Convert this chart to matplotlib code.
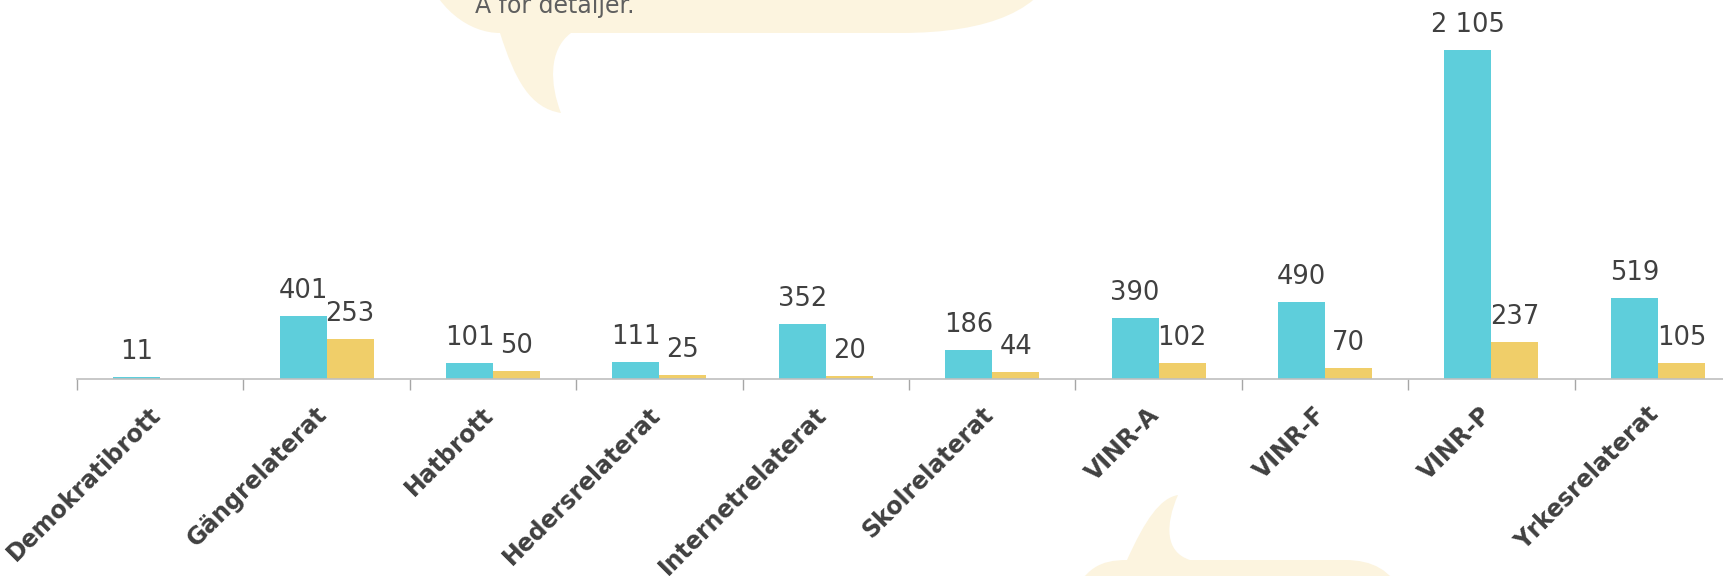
import numpy as np
import matplotlib
matplotlib.use("Agg")
import matplotlib.pyplot as plt
from matplotlib.path import Path
from matplotlib.patches import PathPatch
from matplotlib.transforms import ScaledTranslation

CATEGORIES = ["Demokratibrott", "Gängrelaterat", "Hatbrott", "Hedersrelaterat",
              "Internetrelaterat", "Skolrelaterat", "VINR-A", "VINR-F", "VINR-P",
              "Yrkesrelaterat"]
SERIES_A = [11, 401, 101, 111, 352, 186, 390, 490, 2105, 519]
SERIES_B = [np.nan, 253, 50, 25, 20, 44, 102, 70, 237, 105]
NOTE_TEXT = "A för detaljer."

TEAL = "#5ECEDB"
YELLOW = "#F0CE69"
TEXT = "#404040"
BUBBLE = "#FCF4DF"

W, H, DPI = 1723, 576, 100
BAR_W = 0.283


def fmt(v):
    return f"{int(v):,}".replace(",", " ")


def bubble_path(verts_codes):
    verts = [v for v, c in verts_codes]
    codes = [c for v, c in verts_codes]
    return Path(verts, codes)


fig = plt.figure(figsize=(W / DPI, H / DPI), dpi=DPI)

# background layer in pixel coordinates for the speech bubbles
bg = fig.add_axes([0, 0, 1, 1], zorder=0)
bg.set_xlim(0, W)
bg.set_ylim(H, 0)
bg.axis("off")

M, C, L, Z = Path.MOVETO, Path.CURVE4, Path.LINETO, Path.CLOSEPOLY
top = [
    ((500, 33), M),
    ((515, 80), C), ((530, 108), C), ((561, 113), C),
    ((550, 85), C), ((548, 50), C), ((571, 33), C),
    ((900, 33), L),
    ((990, 33), C), ((1045, 10), C), ((1060, -40), C),
    ((1060, -100), L), ((420, -100), L), ((420, -40), L),
    ((435, 10), C), ((470, 33), C), ((500, 33), C),
    ((500, 33), Z),
]
bottom = [
    ((1070, 600), M),
    ((1085, 568), C), ((1100, 560), C), ((1127, 560), C),
    ((1145, 520), C), ((1160, 498), C), ((1178, 495), C),
    ((1165, 525), C), ((1165, 552), C), ((1190, 560), C),
    ((1345, 560), L),
    ((1372, 560), C), ((1392, 570), C), ((1402, 595), C),
    ((1402, 620), L), ((1070, 620), L),
    ((1070, 600), Z),
]
for pts in (top, bottom):
    bg.add_patch(PathPatch(bubble_path(pts), facecolor=BUBBLE, edgecolor="none"))
bg.text(475, 13, NOTE_TEXT, fontsize=17, color="#5f5f5f", va="baseline", ha="left")

# main chart
x0 = 77
step = 166.4
base_y = 379
ax = fig.add_axes([x0 / W, (H - base_y) / H, (W - x0) / W, base_y / H], zorder=1)
ax.patch.set_alpha(0)

x = np.arange(len(CATEGORIES))
ax.bar(x - BAR_W, SERIES_A, width=BAR_W, align="edge", color=TEAL)
ax.bar(x, SERIES_B, width=BAR_W, align="edge", color=YELLOW)

for xi, v in zip(x, SERIES_A):
    ax.annotate(fmt(v), (xi - BAR_W / 2, v), xytext=(0, 13), textcoords="offset points",
                ha="center", va="baseline", fontsize=18.5, color=TEXT)
for xi, v in zip(x, SERIES_B):
    if np.isnan(v):
        continue
    ax.annotate(fmt(v), (xi + BAR_W / 2, v), xytext=(0, 13), textcoords="offset points",
                ha="center", va="baseline", fontsize=18.5, color=TEXT)

for s in ["top", "right", "left"]:
    ax.spines[s].set_visible(False)
ax.spines["bottom"].set_color("#BFBFBF")
ax.spines["bottom"].set_linewidth(1.2)
ax.set_yticks([])

ax.set_xticks(x)
ax.set_xticklabels(CATEGORIES, rotation=45, ha="right", va="center",
                   rotation_mode="anchor", fontsize=17, fontweight="bold", color=TEXT)
ax.tick_params(axis="x", which="major", length=0, pad=23)
ax.set_xticks(np.arange(-0.5, len(CATEGORIES)), minor=True)
ax.tick_params(axis="x", which="minor", length=8, width=1, color="#A6A6A6", direction="out")

# limits after the ticks, so the tick setting does not widen the view
ax.set_xlim(-0.5, -0.5 + (W - x0) / step)
ax.set_ylim(0, 2105 * base_y / 329)

shift = ScaledTranslation(-3 / DPI, 0, fig.dpi_scale_trans)
for lab in ax.get_xticklabels():
    lab.set_transform(lab.get_transform() + shift)

fig.savefig("out.png", dpi=DPI)
